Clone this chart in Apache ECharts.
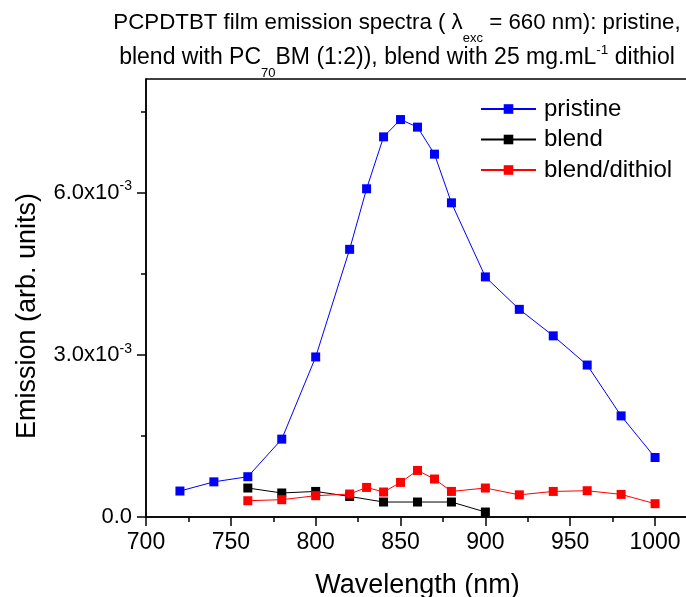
<!DOCTYPE html>
<html><head><meta charset="utf-8">
<script src="https://cdn.jsdelivr.net/npm/echarts@6/dist/echarts.min.js"></script>
<style>html,body{margin:0;padding:0;background:#fff}#c{width:686px;height:597px}</style>
</head><body><div id="c"></div>
<script>
const FONT = '"Liberation Sans", Arial, sans-serif';

const seriesNames = ['pristine', 'blend', 'blend/dithiol'];
const seriesColors = ['#0000ff', '#000000', '#ff0000'];

const pristineX = [720, 740, 760, 780, 800, 820, 830, 840, 850, 860, 870, 880, 900, 920, 940, 960, 980, 1000];
const pristineY = [4.8e-4, 6.5e-4, 7.45e-4, 1.44e-3, 2.96e-3, 4.95e-3, 6.07e-3, 7.03e-3, 7.35e-3, 7.21e-3, 6.71e-3, 5.81e-3, 4.44e-3, 3.84e-3, 3.35e-3, 2.81e-3, 1.87e-3, 1.10e-3];

const blendX = [760, 780, 800, 820, 840, 860, 880, 900];
const blendY = [5.36e-4, 4.44e-4, 4.73e-4, 3.8e-4, 2.77e-4, 2.77e-4, 2.77e-4, 0.92e-4];

const dithiolX = [760, 780, 800, 820, 830, 840, 850, 860, 870, 880, 900, 920, 940, 960, 980, 1000];
const dithiolY = [3.01e-4, 3.2e-4, 3.94e-4, 4.25e-4, 5.47e-4, 4.62e-4, 6.4e-4, 8.61e-4, 7.02e-4, 4.73e-4, 5.36e-4, 4.1e-4, 4.73e-4, 4.86e-4, 4.18e-4, 2.46e-4];

const xTickValues = [700, 750, 800, 850, 900, 950, 1000];
const xMinorTicks = [725, 775, 825, 875, 925, 975];
const yTickValues = [0, 0.003, 0.006];
const yMinorTicks = [0.0015, 0.0045, 0.0075];

const X_MIN = 700, X_MAX = 1020, Y_MIN = 0, Y_MAX = 0.0081;

function pairs(xs, ys) { return xs.map((x, i) => [x, ys[i]]); }

const chart = echarts.init(document.getElementById('c'), null, { renderer: 'canvas' });

const axisLineStyle = { color: '#000', width: 1.5 };

const option = {
  animation: false,
  backgroundColor: '#fff',
  textStyle: { fontFamily: FONT, color: '#000' },
  title: {
    left: 397, top: 5, padding: 0, textAlign: 'center',
    text: '{a|PCPDTBT film emission spectra ( \u03bb}{sub|exc}{a| = 660 nm): pristine,}\n' +
          '{b|blend with PC}{sub|70}{b|BM (1:2)), blend with 25 mg.mL}{sup|-1}{b| dithiol}',
    textStyle: {
      fontFamily: FONT, color: '#000', fontWeight: 'normal',
      rich: {
        a: { fontFamily: FONT, fontSize: 22.3, lineHeight: 35, color: '#000' },
        b: { fontFamily: FONT, fontSize: 23, lineHeight: 35, color: '#000' },
        sub: { fontFamily: FONT, fontSize: 13, lineHeight: 13, padding: [27, 0, 0, 0], verticalAlign: 'top', color: '#000' },
        sup: { fontFamily: FONT, fontSize: 13.5, lineHeight: 13.5, padding: [3, 0, 0, 0], verticalAlign: 'top', color: '#000' }
      }
    }
  },
  legend: {
    left: 480, top: 97, orient: 'vertical', padding: 0,
    itemWidth: 55, itemHeight: 12, itemGap: 6.5,
    selectedMode: false,
    data: seriesNames,
    textStyle: { fontFamily: FONT, fontSize: 24, lineHeight: 24, color: '#000', padding: [0, 0, 0, 3] }
  },
  grid: { left: 146, top: 79, width: 543, height: 438, outerBoundsMode: 'none', containLabel: false,
    show: true, borderColor: '#000', borderWidth: 1.5, backgroundColor: 'transparent' },
  xAxis: [
    {
      type: 'value', min: X_MIN, max: X_MAX, interval: 50,
      axisLine: { show: true, lineStyle: axisLineStyle, onZero: false },
      axisTick: { show: true, inside: false, length: 9, customValues: xTickValues, lineStyle: { color: '#000', width: 1.5 } },
      axisLabel: { show: true, customValues: xTickValues, margin: 14, fontFamily: FONT, fontSize: 23, color: '#000',
        formatter: function (v) { return String(v); } },
      splitLine: { show: false },
      name: 'Wavelength (nm)', nameLocation: 'middle', nameGap: 55,
      nameTextStyle: { fontFamily: FONT, fontSize: 27, color: '#000' }
    },
    {
      type: 'value', min: X_MIN, max: X_MAX, position: 'bottom',
      axisLine: { show: false },
      axisTick: { show: true, inside: false, length: 5, customValues: xMinorTicks, lineStyle: { color: '#000', width: 1.5 } },
      axisLabel: { show: false },
      splitLine: { show: false }
    }
  ],
  yAxis: [
    {
      type: 'value', min: Y_MIN, max: Y_MAX,
      axisLine: { show: true, lineStyle: axisLineStyle, onZero: false },
      axisTick: { show: true, inside: false, length: 9, customValues: yTickValues, lineStyle: { color: '#000', width: 1.5 } },
      axisLabel: {
        show: true, customValues: yTickValues, margin: 14,
        formatter: function (v) {
          if (Math.abs(v) < 1e-12) return '{b|0.0}';
          return '{b|' + (v * 1000).toFixed(1) + 'x10}{s|-3}';
        },
        rich: {
          b: { fontFamily: FONT, fontSize: 22, lineHeight: 26, color: '#000' },
          s: { fontFamily: FONT, fontSize: 14, lineHeight: 14, verticalAlign: 'top', color: '#000' }
        }
      },
      splitLine: { show: false },
      name: 'Emission (arb. units)', nameLocation: 'middle', nameGap: 105,
      nameTextStyle: { fontFamily: FONT, fontSize: 27, color: '#000', padding: [0, 36, 0, 0] }
    },
    {
      type: 'value', min: Y_MIN, max: Y_MAX, position: 'left',
      axisLine: { show: false },
      axisTick: { show: true, inside: false, length: 5, customValues: yMinorTicks, lineStyle: { color: '#000', width: 1.5 } },
      axisLabel: { show: false },
      splitLine: { show: false }
    }
  ],
  series: [
    { name: seriesNames[0], data: pairs(pristineX, pristineY) },
    { name: seriesNames[1], data: pairs(blendX, blendY) },
    { name: seriesNames[2], data: pairs(dithiolX, dithiolY) }
  ].map((s, i) => Object.assign({
    type: 'line', xAxisIndex: 0, yAxisIndex: 0,
    symbol: 'rect', symbolSize: 9, showSymbol: true,
    lineStyle: { color: seriesColors[i], width: 1 },
    itemStyle: { color: seriesColors[i] },
    emphasis: { disabled: true }
  }, s))
};
chart.setOption(option);
</script>
</body></html>
